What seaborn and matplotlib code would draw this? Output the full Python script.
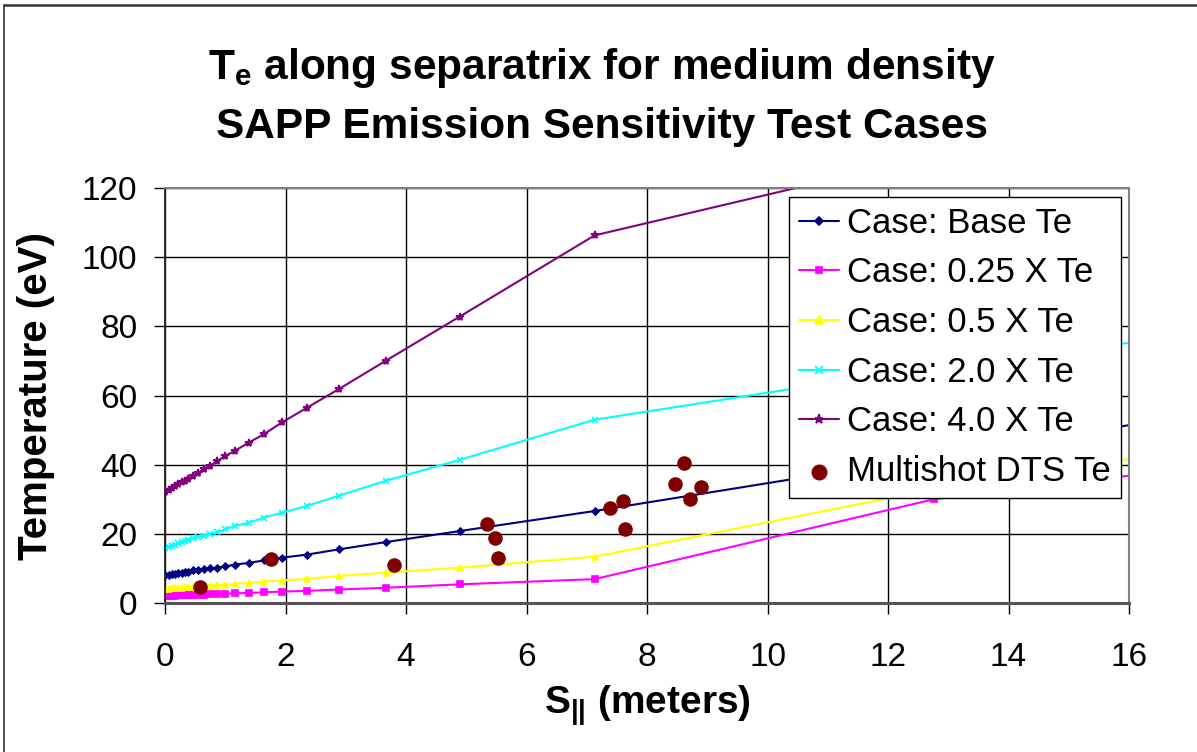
import matplotlib
matplotlib.use("Agg")
import matplotlib.pyplot as plt
import seaborn as sns
import pandas as pd
from matplotlib.lines import Line2D

# ---------------- data ----------------
s_model = [0.0, 0.06, 0.11, 0.17, 0.22, 0.28, 0.33, 0.39, 0.47, 0.55, 0.64, 0.75,
           0.86, 1.00, 1.16, 1.39, 1.64, 1.94, 2.36, 2.88, 3.66, 4.89, 7.13, 12.76, 18.0]
te_base = [8.0, 8.2, 8.3, 8.4, 8.6, 8.8, 8.9, 9.1, 9.4, 9.6, 9.8, 10.0,
           10.2, 10.6, 11.1, 11.6, 12.3, 13.1, 14.0, 15.5, 17.6, 20.8, 26.6, 42.4, 57.0]
te_025 = [2.0, 2.0, 2.1, 2.1, 2.2, 2.2, 2.2, 2.3, 2.3, 2.4, 2.4, 2.5,
          2.6, 2.7, 2.8, 2.9, 3.1, 3.3, 3.5, 3.9, 4.4, 5.4, 6.9, 30.0, 41.0]
te_05 = [4.0, 4.1, 4.2, 4.2, 4.3, 4.4, 4.5, 4.6, 4.7, 4.8, 4.9, 5.0,
         5.1, 5.3, 5.6, 5.8, 6.2, 6.5, 7.0, 7.8, 8.8, 10.2, 13.4, 32.9, 47.0]
te_20 = [16.0, 16.3, 16.5, 16.8, 17.3, 17.6, 17.9, 18.2, 18.7, 19.2, 19.5, 20.0,
         20.4, 21.3, 22.3, 23.2, 24.7, 26.1, 28.1, 31.0, 35.3, 41.4, 53.0, 68.3, 79.5]
te_40 = [32.1, 32.8, 33.3, 33.8, 34.4, 34.9, 35.4, 35.9, 36.8, 37.7, 38.7, 39.7,
         41.0, 42.5, 44.0, 46.4, 48.8, 52.2, 56.5, 61.8, 70.0, 82.8, 106.3, 129.4, 140.0]

s_dts = [0.58, 1.76, 3.80, 5.34, 5.47, 5.53, 7.38, 7.60, 7.63, 8.46, 8.62, 8.71, 8.90]
te_dts = [4.7, 12.6, 11.0, 22.8, 18.9, 13.1, 27.6, 29.5, 21.3, 34.3, 40.4, 30.0, 33.4]

series_labels = ["Case: Base Te", "Case: 0.25 X Te", "Case: 0.5 X Te",
                 "Case: 2.0 X Te", "Case: 4.0 X Te"]
dts_label = "Multishot DTS Te"
x_ticks = [0, 2, 4, 6, 8, 10, 12, 14, 16]
y_ticks = [0, 20, 40, 60, 80, 100, 120]

# ---------------- style ----------------
sns.set_theme(style="white")
plt.rcParams["font.family"] = ["Liberation Sans", "DejaVu Sans"]
plt.rcParams["mathtext.default"] = "regular"

fig = plt.figure(figsize=(11.97, 7.52), dpi=100)
W, H = 1197, 752
ax_l, ax_r, ax_t, ax_b = 165, 1129, 188, 603
ax = fig.add_axes([ax_l / W, 1 - ax_b / H, (ax_r - ax_l) / W, (ax_b - ax_t) / H])

colors = ["#000080", "#FF00FF", "#FFFF00", "#00FFFF", "#800080"]
markers = ["D", "s", "^", "x", "*"]
msizes = [3.5, 4, 5, 5, 6]
values = [te_base, te_025, te_05, te_20, te_40]

for lab, col, mk, ms, vals in zip(series_labels, colors, markers, msizes, values):
    df = pd.DataFrame({"s": s_model, "te": vals})
    sns.lineplot(data=df, x="s", y="te", ax=ax, color=col, marker=mk,
                 markersize=ms, markeredgecolor=col, markeredgewidth=1.2,
                 linewidth=1.5, label=lab, sort=False, errorbar=None)

df_dts = pd.DataFrame({"s": s_dts, "te": te_dts})
sns.scatterplot(data=df_dts, x="s", y="te", ax=ax, color="#800000", s=110,
                edgecolor="#800000", linewidth=0, label=dts_label, zorder=5)

ax.set_xlim(0, 16)
ax.set_ylim(0, 120)
ax.set_xticks(x_ticks)
ax.set_yticks(y_ticks)
ax.set_xticklabels([str(v) for v in x_ticks])
ax.set_yticklabels([str(v) for v in y_ticks])
ax.grid(True, color="black", linewidth=1.0)
ax.set_axisbelow(True)

ax.tick_params(axis="both", which="major", direction="out", length=8, width=1,
               color="black", labelsize=24, labelcolor="black", bottom=True, left=True)
ax.tick_params(axis="x", pad=20)
ax.tick_params(axis="y", pad=12)

for side in ["top", "right"]:
    ax.spines[side].set_color("#808080")
    ax.spines[side].set_linewidth(1.5)
ax.spines["left"].set_color("#222222")
ax.spines["left"].set_linewidth(1.3)
ax.spines["bottom"].set_color("#555555")
ax.spines["bottom"].set_linewidth(2.2)

ax.set_xlabel(r"S$_{||}$ (meters)", fontsize=28, fontweight="bold", color="black")
ax.set_ylabel("Temperature (eV)", fontsize=29, fontweight="bold", color="black")
ax.xaxis.set_label_coords(0.5, (ax_b - 683) / (ax_b - ax_t))
ax.yaxis.set_label_coords((55 - ax_l) / (ax_r - ax_l), 0.5)

fig.text(602 / W, 1 - 79 / H, r"T$_{e}$ along separatrix for medium density",
         ha="center", va="baseline", fontsize=30.5, fontweight="bold", color="black")
fig.text(602 / W, 1 - 138 / H, "SAPP Emission Sensitivity Test Cases",
         ha="center", va="baseline", fontsize=30.5, fontweight="bold", color="black")

leg = ax.legend(loc="upper left",
                bbox_to_anchor=((789 - ax_l) / (ax_r - ax_l), (ax_b - 197) / (ax_b - ax_t)),
                borderaxespad=0, fontsize=25, frameon=True, fancybox=False,
                framealpha=1, edgecolor="black", borderpad=0.28, labelspacing=0.48,
                handlelength=1.15, handletextpad=0.25, markerscale=1.1)
leg.get_frame().set_linewidth(1.0)
for t in leg.get_texts():
    t.set_color("black")

# outer chart frame (top and left edges visible)
fig.add_artist(Line2D([4 / W, 1], [1 - 5 / H, 1 - 5 / H], transform=fig.transFigure,
                      color="#333333", linewidth=1.8))
fig.add_artist(Line2D([4 / W, 4 / W], [0, 1 - 5 / H], transform=fig.transFigure,
                      color="#333333", linewidth=1.2))

fig.savefig("out.png", dpi=100)
